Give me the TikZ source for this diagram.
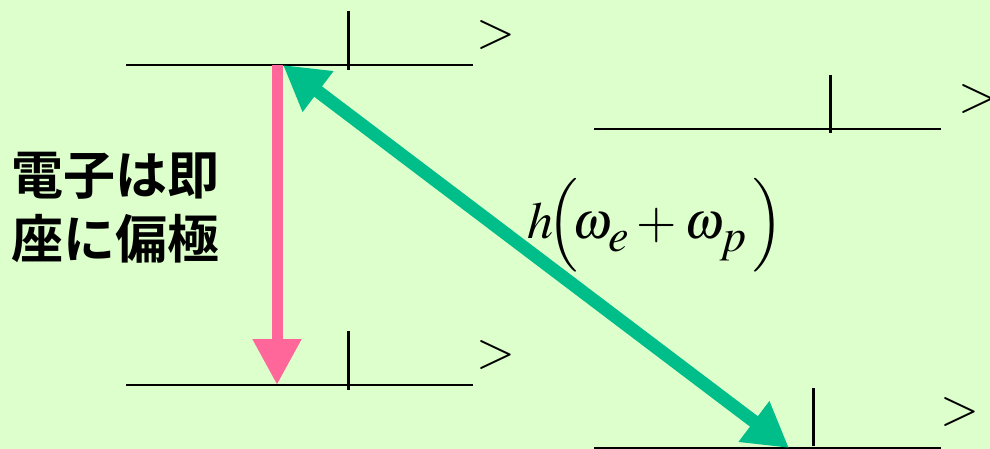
\documentclass[tikz,border=0pt]{standalone}
\usepackage{mathptmx}
\usepackage{fontspec}
\newfontfamily\jpfont{Noto Sans CJK JP Bold}
\usetikzlibrary{arrows.meta}
\definecolor{bgGreen}{RGB}{221,255,204}
\definecolor{pinkArrow}{RGB}{255,102,153}
\definecolor{greenArrow}{RGB}{0,190,138}
\newcommand{\subsz}[1]{\raisebox{-6pt}{\scalebox{1.2}{$\scriptstyle #1$}}}

\begin{document}
\begin{tikzpicture}[
    x=1pt, y=-1pt,
    level/.style={line width=2pt, color=black},
    ketbar/.style={line width=3pt, color=black},
    ketend/.style={inner sep=0pt, font=\fontsize{50}{50}\selectfont},
    decay/.style={-{Triangle[length=46pt, width=46pt]}, line width=11pt, color=pinkArrow},
    transition/.style={{Triangle[length=44pt, width=48pt]}-{Triangle[length=44pt, width=48pt]}, line width=13pt, color=greenArrow}
]

    % Background
    \fill[bgGreen] (0,0) rectangle (990,449);
    \useasboundingbox (0,0) rectangle (990,449);

    % Energy levels (line, ket bar, ket end)
    % upper left
    \draw[level] (126,65) -- (473,65);
    \draw[ketbar] (348,11) -- (348,70);
    \node[ketend] (k1) at (496,35) {$>$};
    % upper right
    \draw[level] (594,129) -- (941,129);
    \draw[ketbar] (830,75) -- (830,133);
    \node[ketend] (k2) at (978,99) {$>$};
    % lower left
    \draw[level] (126,385) -- (473,385);
    \draw[ketbar] (348,331) -- (348,390);
    \node[ketend] (k3) at (496,355) {$>$};
    % lower right
    \draw[level] (594,447.5) -- (941,447.5);
    \draw[ketbar] (813,388) -- (813,446);
    \node[ketend] (k4) at (960,412) {$>$};

    % Arrow end points
    \coordinate (pinkTop) at (277,65);
    \coordinate (pinkBot) at (277,385);
    \coordinate (greenTop) at (283,65);
    \coordinate (greenBot) at (789,448);

    % Arrows
    \draw[decay] (pinkTop) -- (pinkBot);
    \draw[transition] (greenTop) -- (greenBot);

    % Labels
    \node[align=left, inner sep=0pt, font=\jpfont\fontsize{52}{64}\selectfont] (note) at (116,208) {電子は即\\座に偏極};
    \node[anchor=base west, inner sep=0pt, font=\fontsize{52}{52}\selectfont] (energy) at (527,238)
        {$h\!\Bigl(\!\omega_{\subsz{e}}+\omega_{\subsz{p}}\,\Bigr)$};

\end{tikzpicture}
\end{document}
